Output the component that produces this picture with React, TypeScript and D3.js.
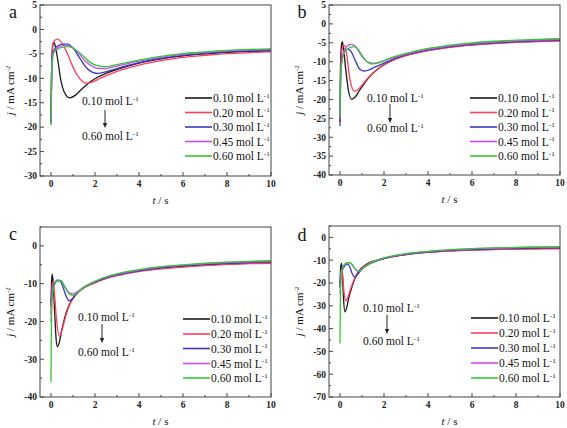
import React from "react";
import * as d3 from "d3";

type Pt = [number, number];

const labels = ["0.10", "0.20", "0.30", "0.45", "0.60"];
const colors = ["#1a1a1a", "#ff3d5f", "#3a3ac0", "#c84cf0", "#33c833"];
const xTicks = [0, 2, 4, 6, 8, 10];

// Panel a
const aBlack: Pt[] = [[0,-19],[0.03,-8],[0.07,-3.5],[0.13,-2.6],[0.2,-3.5],[0.3,-6],[0.45,-10.5],[0.6,-12.8],[0.85,-14],[1.1,-13.5],[1.4,-12.2],[1.7,-11],[2,-10.1],[2.5,-9],[3,-8.2],[4,-6.9],[5,-6.0],[6,-5.4],[7,-5.0],[8,-4.7],[9,-4.5],[10,-4.4]];
const aRed: Pt[] = [[0,-19],[0.03,-8],[0.08,-3.5],[0.15,-2.3],[0.3,-2.0],[0.45,-2.5],[0.7,-4.5],[0.95,-7.2],[1.2,-9.4],[1.45,-10.7],[1.65,-11],[1.9,-10.7],[2.2,-10.1],[2.6,-9.3],[3,-8.6],[4,-7.3],[5,-6.4],[6,-5.7],[7,-5.3],[8,-4.95],[9,-4.75],[10,-4.6]];
const aBlue: Pt[] = [[0,-19],[0.03,-8],[0.1,-4.5],[0.3,-3.4],[0.55,-3.0],[0.75,-3.0],[1.0,-3.8],[1.3,-5.8],[1.6,-7.8],[1.85,-8.7],[2.1,-9.0],[2.4,-8.8],[2.7,-8.4],[3,-8.0],[4,-6.8],[5,-5.9],[6,-5.3],[7,-4.9],[8,-4.6],[9,-4.4],[10,-4.3]];
const aMagenta: Pt[] = [[0,-19.5],[0.03,-8],[0.12,-4.5],[0.35,-3.6],[0.65,-3.3],[0.85,-3.4],[1.2,-4.6],[1.55,-6.4],[1.9,-7.6],[2.2,-8.0],[2.5,-8.0],[2.8,-7.7],[3,-7.5],[4,-6.5],[5,-5.7],[6,-5.1],[7,-4.7],[8,-4.4],[9,-4.2],[10,-4.1]];
const aGreen: Pt[] = [[0,-19.5],[0.03,-9],[0.12,-4.8],[0.4,-3.8],[0.75,-3.5],[1.0,-3.8],[1.4,-5.2],[1.8,-6.8],[2.1,-7.4],[2.5,-7.6],[2.8,-7.4],[3,-7.2],[4,-6.3],[5,-5.5],[6,-4.95],[7,-4.6],[8,-4.3],[9,-4.1],[10,-4.0]];

// Panel b
const bBlack: Pt[] = [[0,-26],[0.02,-12],[0.06,-6],[0.1,-4.7],[0.15,-6],[0.25,-11.5],[0.38,-17.5],[0.53,-20],[0.7,-19.3],[0.9,-17.5],[1.1,-15.8],[1.4,-13.6],[1.7,-12],[2,-10.8],[2.5,-9.3],[3,-8.3],[4,-7.0],[5,-6.1],[6,-5.5],[7,-5.1],[8,-4.8],[9,-4.6],[10,-4.4]];
const bRed: Pt[] = [[0,-26],[0.03,-12],[0.1,-6.5],[0.2,-5.6],[0.3,-8],[0.42,-13.5],[0.55,-17],[0.65,-17.8],[0.8,-17.5],[1.0,-16.2],[1.2,-14.8],[1.4,-13.6],[1.7,-12.1],[2,-10.9],[2.5,-9.4],[3,-8.4],[4,-7.1],[5,-6.2],[6,-5.6],[7,-5.2],[8,-4.9],[9,-4.7],[10,-4.5]];
const bBlue: Pt[] = [[0,-27],[0.03,-14],[0.1,-9],[0.2,-7.3],[0.35,-6.7],[0.5,-7.3],[0.7,-9.8],[0.9,-12],[1.1,-12.5],[1.3,-12.2],[1.6,-11.4],[2,-10.4],[2.5,-9.1],[3,-8.2],[4,-6.9],[5,-6.0],[6,-5.4],[7,-5.0],[8,-4.7],[9,-4.5],[10,-4.3]];
const bMagenta: Pt[] = [[0,-25],[0.03,-13],[0.12,-8.5],[0.3,-6],[0.5,-5.4],[0.7,-5.9],[0.95,-8.2],[1.2,-9.9],[1.45,-10.4],[1.7,-10.3],[2,-9.8],[2.5,-8.8],[3,-8.0],[4,-6.7],[5,-5.8],[6,-5.2],[7,-4.8],[8,-4.5],[9,-4.3],[10,-4.1]];
const bGreen: Pt[] = [[0,-25],[0.03,-13.5],[0.12,-9],[0.3,-6.8],[0.6,-6.0],[0.8,-6.5],[1.05,-8.8],[1.3,-10.3],[1.5,-10.6],[1.75,-10.3],[2,-9.7],[2.5,-8.6],[3,-7.8],[4,-6.5],[5,-5.6],[6,-5.0],[7,-4.6],[8,-4.3],[9,-4.1],[10,-3.9]];

// Panel c
const cBlack: Pt[] = [[0,-16],[0.03,-9],[0.06,-7.5],[0.1,-10],[0.17,-18],[0.23,-24.5],[0.29,-26.7],[0.38,-25.5],[0.5,-22],[0.65,-18.5],[0.8,-16],[1.0,-13.8],[1.3,-11.8],[1.6,-10.6],[2,-9.6],[2.5,-8.5],[3,-7.7],[4,-6.6],[5,-5.9],[6,-5.4],[7,-5.0],[8,-4.8],[9,-4.6],[10,-4.5]];
const cRed: Pt[] = [[0,-18],[0.04,-11],[0.09,-9.5],[0.15,-12],[0.25,-19.5],[0.38,-23.9],[0.5,-22.2],[0.65,-19],[0.8,-16.3],[1.0,-14],[1.3,-12],[1.6,-10.8],[2,-9.8],[2.5,-8.7],[3,-7.9],[4,-6.8],[5,-6.1],[6,-5.6],[7,-5.2],[8,-4.9],[9,-4.7],[10,-4.6]];
const cBlue: Pt[] = [[0,-15],[0.05,-12],[0.15,-10],[0.3,-9.1],[0.4,-9.2],[0.55,-11],[0.7,-13.5],[0.83,-14.5],[0.95,-14.1],[1.2,-12.4],[1.5,-11],[2,-9.6],[2.5,-8.5],[3,-7.7],[4,-6.6],[5,-5.8],[6,-5.3],[7,-4.9],[8,-4.6],[9,-4.4],[10,-4.2]];
const cMagenta: Pt[] = [[0,-20],[0.05,-13],[0.15,-10.2],[0.3,-9.1],[0.45,-9.2],[0.65,-11],[0.85,-12.5],[1.0,-12.7],[1.2,-12.1],[1.5,-10.9],[2,-9.4],[2.5,-8.3],[3,-7.5],[4,-6.4],[5,-5.6],[6,-5.1],[7,-4.7],[8,-4.4],[9,-4.2],[10,-4.0]];
const cGreen: Pt[] = [[0,-36],[0.02,-20],[0.06,-13],[0.15,-10.5],[0.3,-9.3],[0.45,-9.3],[0.65,-11.2],[0.85,-12.8],[1.0,-13.1],[1.2,-12.4],[1.5,-11],[2,-9.4],[2.5,-8.2],[3,-7.4],[4,-6.3],[5,-5.5],[6,-5.0],[7,-4.6],[8,-4.3],[9,-4.1],[10,-3.9]];

// Panel d
const dBlack: Pt[] = [[0,-22],[0.03,-13],[0.07,-11.4],[0.11,-16],[0.16,-27],[0.23,-32.7],[0.3,-31],[0.4,-26.5],[0.55,-21.5],[0.7,-17.5],[0.9,-14.3],[1.2,-11.8],[1.6,-10.2],[2,-9.2],[2.5,-8.2],[3,-7.5],[4,-6.5],[5,-5.9],[6,-5.5],[7,-5.2],[8,-5.0],[9,-4.9],[10,-4.8]];
const dRed: Pt[] = [[0,-20],[0.04,-15],[0.08,-14],[0.13,-18],[0.2,-25.5],[0.27,-27.8],[0.35,-26.5],[0.45,-23.5],[0.6,-19.5],[0.75,-16.5],[0.95,-13.9],[1.2,-12],[1.6,-10.3],[2,-9.3],[2.5,-8.3],[3,-7.6],[4,-6.6],[5,-6.0],[6,-5.6],[7,-5.3],[8,-5.1],[9,-5.0],[10,-5.0]];
const dBlue: Pt[] = [[0,-20],[0.05,-16],[0.15,-13.5],[0.27,-12],[0.35,-11.7],[0.45,-13],[0.55,-15.8],[0.65,-17.3],[0.75,-16.8],[0.9,-15],[1.1,-13],[1.4,-11.3],[1.7,-10.2],[2,-9.3],[2.5,-8.2],[3,-7.4],[4,-6.4],[5,-5.7],[6,-5.3],[7,-5.0],[8,-4.8],[9,-4.6],[10,-4.5]];
const dMagenta: Pt[] = [[0,-25],[0.05,-17],[0.15,-13],[0.3,-11.5],[0.43,-11.1],[0.55,-12],[0.68,-13.8],[0.8,-14.8],[0.95,-14.2],[1.15,-12.7],[1.4,-11.3],[1.7,-10.1],[2,-9.1],[2.5,-8.0],[3,-7.2],[4,-6.2],[5,-5.5],[6,-5.0],[7,-4.7],[8,-4.5],[9,-4.3],[10,-4.2]];
const dGreen: Pt[] = [[0,-46.5],[0.02,-25],[0.06,-16],[0.15,-12.5],[0.3,-11.2],[0.43,-11],[0.55,-11.8],[0.68,-13.7],[0.82,-14.8],[0.95,-14.3],[1.15,-12.8],[1.4,-11.3],[1.7,-10],[2,-9.0],[2.5,-7.9],[3,-7.1],[4,-6.1],[5,-5.4],[6,-4.9],[7,-4.6],[8,-4.4],[9,-4.2],[10,-4.1]];

const aYTicks = [5, 0, -5, -10, -15, -20, -25, -30];
const bYTicks = [5, 0, -5, -10, -15, -20, -25, -30, -35, -40];
const cYTicks = [0, -10, -20, -30, -40];
const dYTicks = [0, -10, -20, -30, -40, -50, -60, -70];

const FONT = "Liberation Serif, Times New Roman, DejaVu Serif, serif";

interface PanelProps {
  letter: string;
  series: Pt[][];
  left: number; right: number; top: number; bottom: number;
  yDomain: [number, number];
  yTicks: number[];
  yMinorStep: number;
  legendX: number; legendY: number[];
  annX: number; annY1: number; arrowY1: number; arrowY2: number; annY2: number; arrowX: number;
  letterX: number; letterY: number;
}

function MolLabel({ x, y, value, size = 11.5 }: { x: number; y: number; value: string; size?: number }) {
  return (
    <text x={x} y={y} fontFamily={FONT} fontSize={size} fill="#111">
      {value} mol L
      <tspan fontSize={size * 0.62} dy={-size * 0.38}>-1</tspan>
    </text>
  );
}

function Panel(p: PanelProps) {
  const x = d3.scaleLinear().domain([-0.5, 10]).range([p.left, p.right]);
  const y = d3.scaleLinear().domain(p.yDomain).range([p.bottom, p.top]);
  const line = d3.line<Pt>().x(d => x(d[0])).y(d => y(d[1])).curve(d3.curveMonotoneX);
  const minorX = d3.range(1, 10, 2);
  const minorY: number[] = [];
  for (let v = p.yDomain[0]; v <= p.yDomain[1] + 1e-9; v += p.yMinorStep) {
    if (!p.yTicks.includes(v)) minorY.push(v);
  }
  const midY = (p.top + p.bottom) / 2;
  return (
    <g>
      <defs>
        <clipPath id={"clip-" + p.letter}>
          <rect x={p.left} y={p.top} width={p.right - p.left} height={p.bottom - p.top} />
        </clipPath>
      </defs>
      <g clipPath={`url(#clip-${p.letter})`}>
        {p.series.map((s, i) => (
          <path key={i} d={line(s) || ""} fill="none" stroke={colors[i]} strokeWidth={1.3} />
        ))}
      </g>
      <rect x={p.left} y={p.top} width={p.right - p.left} height={p.bottom - p.top} fill="none" stroke="#444" strokeWidth={1} />
      {xTicks.map(t => (
        <g key={"xt" + t}>
          <line x1={x(t)} x2={x(t)} y1={p.bottom} y2={p.bottom - 4} stroke="#444" />
          <text x={x(t)} y={p.bottom + 11} textAnchor="middle" fontFamily={FONT} fontSize={9.5} fontWeight="bold" fill="#222">{t}</text>
        </g>
      ))}
      {minorX.map(t => (
        <line key={"xm" + t} x1={x(t)} x2={x(t)} y1={p.bottom} y2={p.bottom - 2} stroke="#444" />
      ))}
      {p.yTicks.map(v => (
        <g key={"yt" + v}>
          <line x1={p.left} x2={p.left + 4} y1={y(v)} y2={y(v)} stroke="#444" />
          <text x={p.left - 3} y={y(v) + 3.3} textAnchor="end" fontFamily={FONT} fontSize={9.5} fontWeight="bold" fill="#222">{v}</text>
        </g>
      ))}
      {minorY.map(v => (
        <line key={"ym" + v} x1={p.left} x2={p.left + 2} y1={y(v)} y2={y(v)} stroke="#444" />
      ))}
      <text x={(p.left + p.right) / 2 + 5} y={p.bottom + 28} textAnchor="middle" fontFamily={FONT} fontSize={11} fill="#111">
        <tspan fontStyle="italic">t</tspan> / s
      </text>
      <text transform={`translate(${p.left - 26},${midY}) rotate(-90)`} textAnchor="middle" fontFamily={FONT} fontSize={11} fill="#111">
        <tspan fontStyle="italic">j</tspan> / mA cm<tspan fontSize={7} dy={-4}>-2</tspan>
      </text>
      <text x={p.letterX} y={p.letterY} textAnchor="middle" fontFamily={FONT} fontSize={18} fill="#111">{p.letter}</text>
      {labels.map((l, i) => (
        <g key={"lg" + i}>
          <line x1={p.legendX} x2={p.legendX + 27} y1={p.legendY[i]} y2={p.legendY[i]} stroke={colors[i]} strokeWidth={1.6} />
          <MolLabel x={p.legendX + 28} y={p.legendY[i] + 4} value={l} />
        </g>
      ))}
      <MolLabel x={p.annX} y={p.annY1} value={labels[0]} />
      <line x1={p.arrowX} x2={p.arrowX} y1={p.arrowY1} y2={p.arrowY2 - 4} stroke="#222" strokeWidth={1} />
      <path d={`M${p.arrowX - 2.2},${p.arrowY2 - 5} L${p.arrowX + 2.2},${p.arrowY2 - 5} L${p.arrowX},${p.arrowY2} Z`} fill="#222" />
      <MolLabel x={p.annX} y={p.annY2} value={labels[4]} />
    </g>
  );
}

export default function App() {
  return (
    <svg width={567} height={428} style={{ position: "absolute", left: 0, top: 0, background: "#fff" }}>
      <Panel letter="a" series={[aBlack, aRed, aBlue, aMagenta, aGreen]}
        left={40} right={271} top={5} bottom={176} yDomain={[-30, 5]} yTicks={aYTicks} yMinorStep={2.5}
        legendX={185} legendY={[98, 112.5, 127, 141.5, 156]}
        annX={82} annY1={105} arrowX={105} arrowY1={110} arrowY2={128} annY2={140}
        letterX={13} letterY={18} />
      <Panel letter="b" series={[bBlack, bRed, bBlue, bMagenta, bGreen]}
        left={329} right={560} top={5} bottom={175} yDomain={[-40, 5]} yTicks={bYTicks} yMinorStep={2.5}
        legendX={470} legendY={[98, 112.5, 127, 141.5, 156]}
        annX={367} annY1={102} arrowX={390} arrowY1={104} arrowY2={123} annY2={132}
        letterX={302} letterY={18} />
      <Panel letter="c" series={[cBlack, cRed, cBlue, cMagenta, cGreen]}
        left={40} right={271} top={227} bottom={397} yDomain={[-40, 5]} yTicks={cYTicks} yMinorStep={5}
        legendX={183} legendY={[319, 334, 348.5, 363.5, 378]}
        annX={78} annY1={321} arrowX={102} arrowY1={324} arrowY2={343} annY2={356}
        letterX={13} letterY={240} />
      <Panel letter="d" series={[dBlack, dRed, dBlue, dMagenta, dGreen]}
        left={329} right={560} top={226} bottom={397} yDomain={[-70, 5]} yTicks={dYTicks} yMinorStep={5}
        legendX={471} legendY={[318, 333, 348, 363, 378]}
        annX={363} annY1={312} arrowX={387} arrowY1={315} arrowY2={334} annY2={345}
        letterX={302} letterY={241} />
    </svg>
  );
}
